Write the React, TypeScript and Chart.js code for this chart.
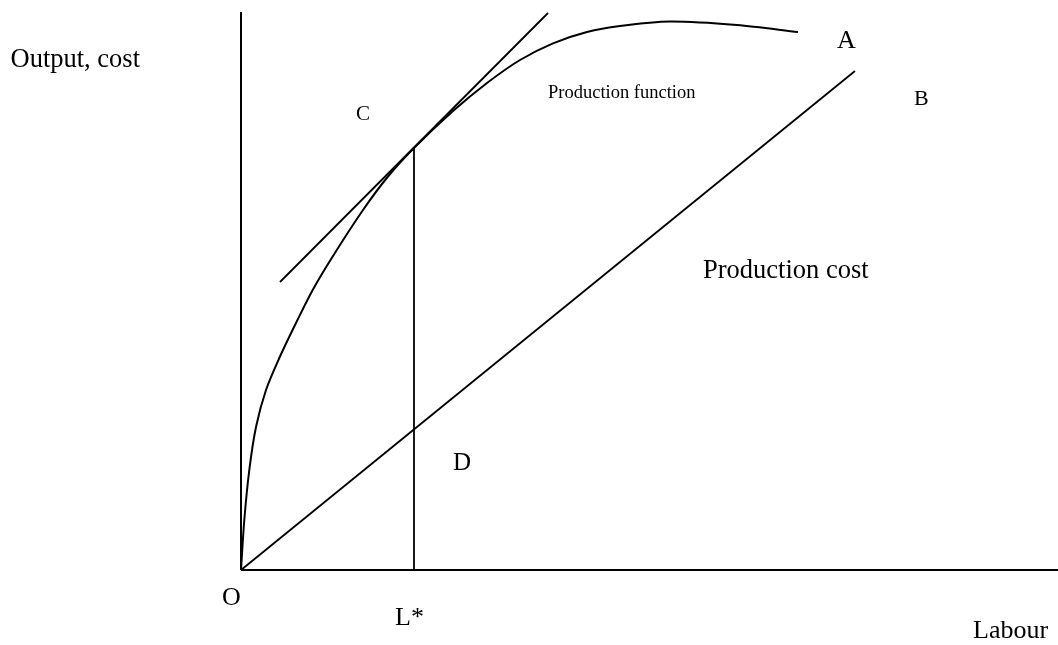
import React, { useEffect, useRef } from "react";
import { Chart, registerables } from "chart.js";

Chart.register(...registerables);

// Production function (labour -> output)
const prodLabour = [0, 3.3, 8.3, 15, 25, 38.3, 55, 71.7, 92, 122, 147, 173, 212, 246, 279, 312, 346, 379, 429, 496, 557];
const prodOutput = [0, 50, 100, 143, 180, 212, 247, 280, 314, 360, 393.5, 422, 459, 487, 510, 526.7, 538, 544, 548.5, 545, 538];

// Tangent line at L*
const tangentLabour = [39, 307];
const tangentOutput = [288, 557];

// Production cost line
const costLabour = [0, 614];
const costValue = [0, 499];

// Optimal labour L*
const optimalLabour = 173;
const optimalOutput = 422;

// Axis extents
const xMax = 817;
const yMax = 558;

const FONT = '"Liberation Serif", "Times New Roman", serif';

const annotations = [
  { text: "Output, cost", x: -230.5, y: 503.3, size: 26.5 },
  { text: "O", x: -19, y: -35, size: 26 },
  { text: "L*", x: 154, y: -55, size: 26 },
  { text: "Labour", x: 732, y: -68, size: 26 },
  { text: "A", x: 596, y: 522, size: 26 },
  { text: "B", x: 673, y: 465, size: 22 },
  { text: "C", x: 115, y: 450, size: 21 },
  { text: "D", x: 212, y: 100, size: 25 },
  { text: "Production function", x: 307, y: 472.5, size: 18.5 },
  { text: "Production cost", x: 462, y: 292, size: 26.5 },
];

const zip = (xs: number[], ys: number[]) => xs.map((x, i) => ({ x, y: ys[i] }));

const labelPlugin = {
  id: "diagramLabels",
  afterDatasetsDraw(chart: any) {
    const { ctx, scales } = chart;
    const sx = scales.x;
    const sy = scales.y;
    ctx.save();
    ctx.fillStyle = "#000";
    ctx.textAlign = "left";
    ctx.textBaseline = "alphabetic";
    for (const a of annotations) {
      ctx.font = `${a.size}px ${FONT}`;
      ctx.fillText(a.text, sx.getPixelForValue(a.x), sy.getPixelForValue(a.y));
    }
    ctx.restore();
  },
};

export default function App() {
  const ref = useRef<HTMLCanvasElement | null>(null);

  useEffect(() => {
    document.body.style.margin = "0";
    const canvas = ref.current;
    if (!canvas) return;
    const base = {
      showLine: true,
      pointRadius: 0,
      borderColor: "#000",
      backgroundColor: "#000",
      fill: false,
      clip: false as any,
    };
    const chart = new Chart(canvas, {
      type: "scatter",
      data: {
        datasets: [
          { ...base, label: "Y axis", data: [{ x: 0, y: 0 }, { x: 0, y: yMax }], borderWidth: 2 },
          { ...base, label: "X axis", data: [{ x: 0, y: 0 }, { x: xMax, y: 0 }], borderWidth: 2 },
          {
            ...base,
            label: "Production function",
            data: zip(prodLabour, prodOutput),
            borderWidth: 2,
            tension: 0.3,
          } as any,
          { ...base, label: "Tangent", data: zip(tangentLabour, tangentOutput), borderWidth: 1.8 },
          { ...base, label: "Production cost", data: zip(costLabour, costValue), borderWidth: 1.8 },
          {
            ...base,
            label: "L*",
            data: [{ x: optimalLabour, y: 0 }, { x: optimalLabour, y: optimalOutput }],
            borderWidth: 1.8,
          },
        ],
      },
      options: {
        animation: false,
        responsive: false,
        maintainAspectRatio: false,
        layout: { padding: { left: 241, right: 0, top: 12, bottom: 75 } },
        plugins: { legend: { display: false }, tooltip: { enabled: false } },
        scales: {
          x: { type: "linear", min: 0, max: xMax, display: false },
          y: { type: "linear", min: 0, max: yMax, display: false },
        },
      },
      plugins: [labelPlugin],
    });
    return () => chart.destroy();
  }, []);

  return (
    <div style={{ width: 1058, height: 645, background: "#fff" }}>
      <canvas ref={ref} width={1058} height={645} style={{ display: "block" }} />
    </div>
  );
}
